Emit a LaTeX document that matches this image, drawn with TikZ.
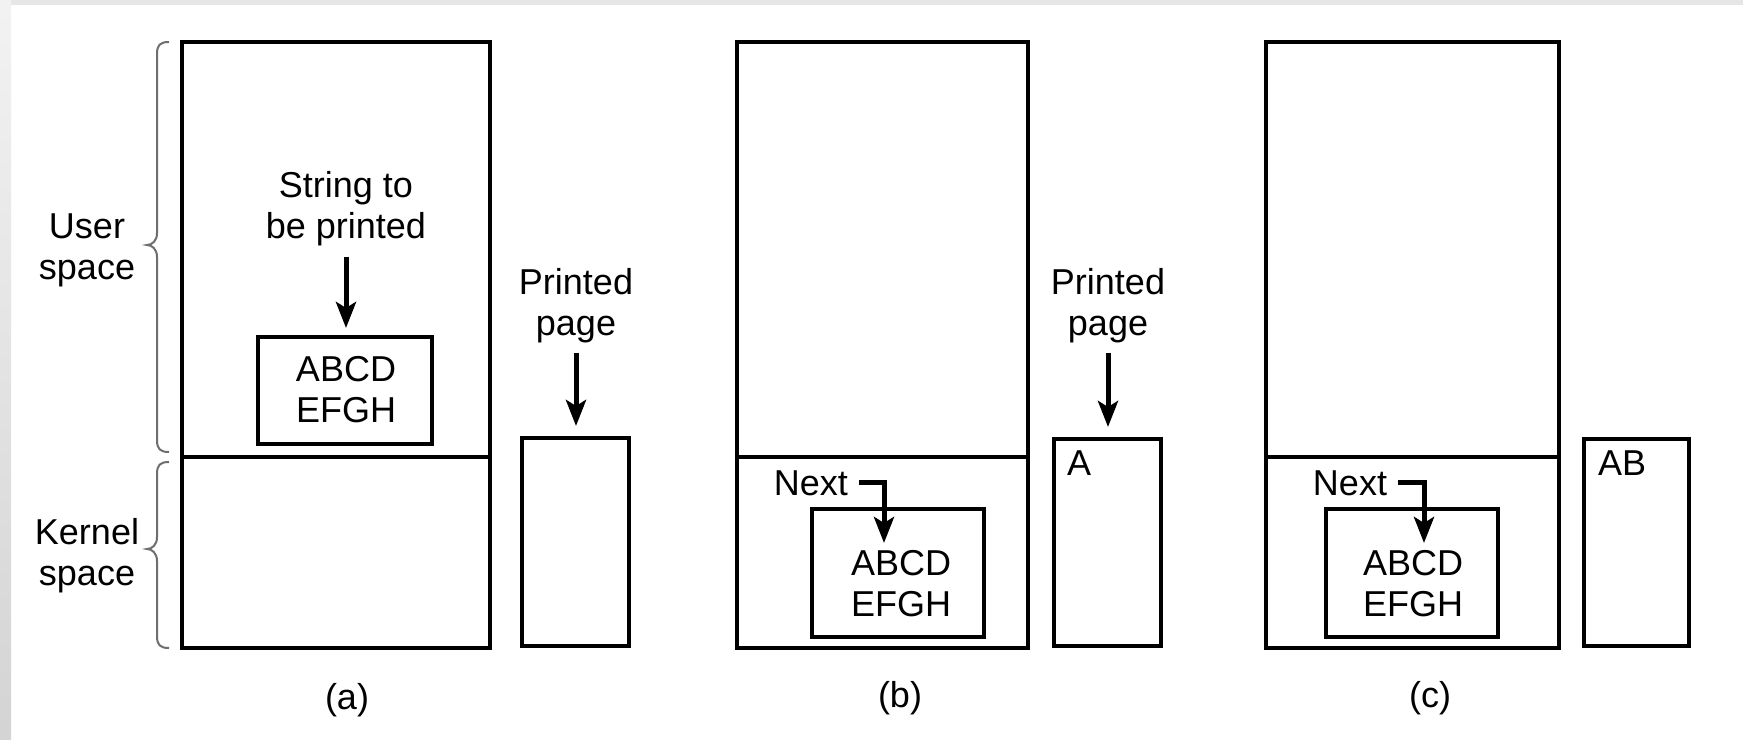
\documentclass[tikz,border=0pt]{standalone}
\usepackage{fontspec}
\setmainfont{Liberation Sans}
\usetikzlibrary{arrows.meta}
\definecolor{brcol}{HTML}{6E6E6E}
\definecolor{edgegray}{HTML}{E6E6E6}
\begin{document}
\begin{tikzpicture}[x=1pt,y=-1pt,
  box/.style={draw, line width=4pt, inner sep=0pt, outer sep=0pt, anchor=north west},
  lbl/.style={font=\fontsize{36}{41}\selectfont, align=center, inner sep=0pt, outer sep=0pt, text=black},
  arr/.style={line width=5pt, -{Stealth[length=26pt,width=20pt,inset=6pt]}},
  divline/.style={line width=4pt},
  brc/.style={draw=brcol, line width=2pt}
]
\useasboundingbox (0,0) rectangle (1743,739);
\fill[white] (0,0) rectangle (1743,739);
\fill[edgegray] (0,0) rectangle (1743,5);
\shade[top color=black!5, bottom color=black!17] (0,0) rectangle (11,739);

% ---------- (a) ----------
\node[box, minimum width=308pt, minimum height=606pt] (bigA) at (182,42) {};
\coordinate (dA) at (182,457);
\draw[divline] (bigA.west |- dA) -- (bigA.east |- dA);
\node[box, minimum width=174pt, minimum height=107pt] (bufA) at (258,337) {};
\node[lbl] (txtA) at (346,389.5) {ABCD\\EFGH};
\node[lbl] (strA) at (346,209) {String to\\be printed};
\draw[arr, shorten <=10.4pt, shorten >=9pt] (strA.south) -- (strA.south |- bufA.north);
\node[box, minimum width=106.5pt, minimum height=208pt] (pageA) at (522,438) {};
\node[lbl] (plA) at (576,306) {Printed\\page};
\draw[arr, shorten <=9.4pt, shorten >=12pt] (plA.south) -- (plA.south |- pageA.north);
\node[lbl] (capA) at (347,700) {(a)};

% braces and labels
\draw[brc] (169,42) .. controls (160,42) and (157,45) .. (157,54) -- (157,233)
  .. controls (157,241) and (152,245) .. (147,245)
  .. controls (152,245) and (157,249) .. (157,257) -- (157,440)
  .. controls (157,449) and (160,452) .. (169,452);
\draw[brc] (169,462) .. controls (160,462) and (157,465) .. (157,474) -- (157,537)
  .. controls (157,545) and (152,549) .. (147,549)
  .. controls (152,549) and (157,553) .. (157,561) -- (157,636)
  .. controls (157,645) and (160,648) .. (169,648);
\node[lbl] (userL) at (87,250) {User\\space};
\node[lbl] (kernL) at (87,556) {Kernel\\space};

% ---------- (b) ----------
\node[box, minimum width=291pt, minimum height=606pt] (bigB) at (737,42) {};
\draw[divline] (bigB.west |- dA) -- (bigB.east |- dA);
\node[box, minimum width=172pt, minimum height=128pt] (bufB) at (812,509) {};
\node[lbl] (txtB) at (901,583.5) {ABCD\\EFGH};
\node[lbl, anchor=base east] (nextB) at (848,495) {Next};
\coordinate (tipB) at (884,543);
\draw[arr] ([xshift=11pt]nextB.east) -| (tipB);
\node[box, minimum width=107pt, minimum height=207pt] (pageB) at (1054,439) {};
\node[lbl, anchor=base west] (prB) at (1067,475) {A};
\node[lbl] (plB) at (1108,306) {Printed\\page};
\draw[arr, shorten <=9.4pt, shorten >=12pt] (plB.south) -- (plB.south |- pageB.north);
\node[lbl] (capB) at (900,698) {(b)};

% ---------- (c) ----------
\node[box, minimum width=293pt, minimum height=606pt] (bigC) at (1266,42) {};
\draw[divline] (bigC.west |- dA) -- (bigC.east |- dA);
\node[box, minimum width=172pt, minimum height=128pt] (bufC) at (1326,509) {};
\node[lbl] (txtC) at (1413,583.5) {ABCD\\EFGH};
\node[lbl, anchor=base east] (nextC) at (1387,495) {Next};
\coordinate (tipC) at (1424,543);
\draw[arr] ([xshift=11pt]nextC.east) -| (tipC);
\node[box, minimum width=105pt, minimum height=207pt] (pageC) at (1584,439) {};
\node[lbl, anchor=base west] (prC) at (1598,475) {AB};
\node[lbl] (capC) at (1430,698) {(c)};
\end{tikzpicture}
\end{document}
